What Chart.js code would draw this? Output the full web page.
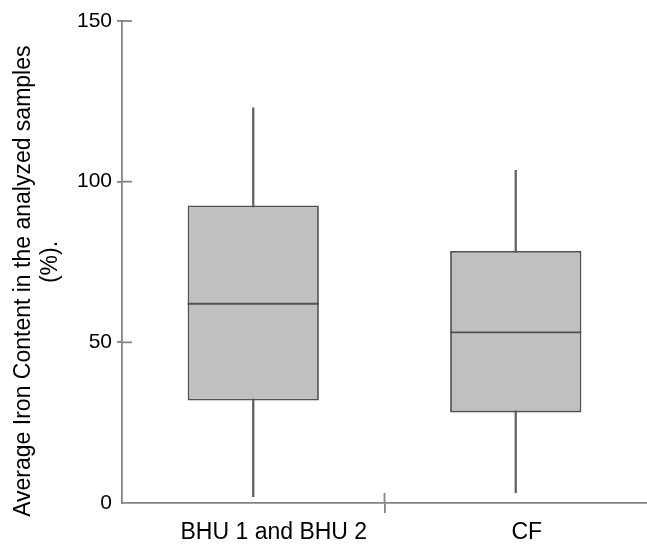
<!DOCTYPE html>
<html>
<head>
<meta charset="utf-8">
<script src="https://cdn.jsdelivr.net/npm/chart.js@4/dist/chart.umd.min.js"></script>
<style>
  html, body { margin: 0; padding: 0; background: #fff; }
  #wrap { width: 647px; height: 545px; }
</style>
</head>
<body>
<div id="wrap"><canvas id="boxChart"></canvas></div>
<script>
// box plot values
const categories = ['BHU 1 and BHU 2', 'CF'];
const mins = [2.0, 3.2];
const q1s = [31.9, 28.2];
const medians = [62.0, 53.1];
const q3s = [92.6, 78.4];
const maxs = [123.0, 103.5];
const yTicks = [0, 50, 100, 150];

const axisColor = '#858585';
const nb = '\u00a0';

// median lines + the inward half of the tick marks
const boxExtras = {
    id: 'boxExtras',
    afterDatasetsDraw(chart) {
        const ctx = chart.ctx;
        const y = chart.scales.y;
        const meta = chart.getDatasetMeta(0);
        ctx.save();
        ctx.strokeStyle = '#505050';
        ctx.lineWidth = 1.8;
        meta.data.forEach((bar, i) => {
            const py = y.getPixelForValue(medians[i]);
            ctx.beginPath();
            ctx.moveTo(bar.x - bar.width / 2, py);
            ctx.lineTo(bar.x + bar.width / 2, py);
            ctx.stroke();
        });
        ctx.restore();
    },
    afterDraw(chart) {
        const ctx = chart.ctx;
        const x = chart.scales.x;
        const y = chart.scales.y;
        const area = chart.chartArea;
        ctx.save();
        ctx.strokeStyle = axisColor;
        ctx.lineWidth = 1.8;
        yTicks.slice(1).forEach(v => {
            const py = y.getPixelForValue(v);
            ctx.beginPath();
            ctx.moveTo(area.left, py);
            ctx.lineTo(area.left + 10, py);
            ctx.stroke();
        });
        // divider tick between the two groups
        const mid = (x.getPixelForValue(0) + x.getPixelForValue(1)) / 2;
        ctx.beginPath();
        ctx.moveTo(mid, area.bottom);
        ctx.lineTo(mid, area.bottom - 10);
        ctx.stroke();
        ctx.restore();
    }
};

const chart = new Chart(document.getElementById('boxChart'), {
    type: 'bar',
    data: {
        labels: categories,
        datasets: [
            {
                label: 'IQR',
                data: categories.map((c, i) => [q1s[i], q3s[i]]),
                backgroundColor: '#c0c0c0',
                borderColor: '#505050',
                borderWidth: 1.8,
                borderSkipped: false,
                barPercentage: 0.5,
                categoryPercentage: 1,
                grouped: false
            },
            {
                label: 'Range',
                data: categories.map((c, i) => [mins[i], maxs[i]]),
                backgroundColor: '#606060',
                borderWidth: 0,
                barThickness: 1.6,
                grouped: false
            }
        ]
    },
    options: {
        responsive: true,
        maintainAspectRatio: false,
        animation: false,
        layout: { padding: { top: 21, right: 0, left: 0, bottom: 0 } },
        plugins: {
            legend: { display: false },
            tooltip: { enabled: false }
        },
        scales: {
            x: {
                offset: true,
                border: { color: axisColor, width: 1.8 },
                grid: {
                    offset: true,
                    drawOnChartArea: false,
                    tickLength: 10,
                    lineWidth: 1.8,
                    color: ctx => ctx.index === 1 ? axisColor : 'rgba(0,0,0,0)'
                },
                ticks: {
                    color: '#000',
                    padding: 6,
                    labelOffset: 11,
                    font: { family: 'Liberation Sans', size: 23 },
                    // first label sits a little further right in the original
                    callback: function(value, index) {
                        const label = this.getLabelForValue(value);
                        return index === 0 ? nb.repeat(3) + label : label;
                    }
                },
                afterFit: scale => { scale.height = 42; }
            },
            y: {
                min: 0,
                max: 150,
                border: { color: axisColor, width: 1.8 },
                grid: {
                    drawOnChartArea: false,
                    tickLength: 5,
                    lineWidth: 1.8,
                    color: ctx => ctx.index === 0 ? 'rgba(0,0,0,0)' : axisColor
                },
                ticks: {
                    stepSize: 50,
                    color: '#000',
                    padding: 5,
                    font: { family: 'Liberation Sans', size: 21 }
                },
                title: {
                    display: true,
                    text: ['Average Iron Content in the analyzed samples' + nb.repeat(6), '(%).'],
                    color: '#000',
                    padding: { top: 10, bottom: 0 },
                    font: { family: 'Liberation Sans', size: 23, lineHeight: 1.17 }
                },
                afterFit: scale => { scale.width = 122; }
            }
        }
    },
    plugins: [boxExtras]
});
</script>
</body>
</html>
